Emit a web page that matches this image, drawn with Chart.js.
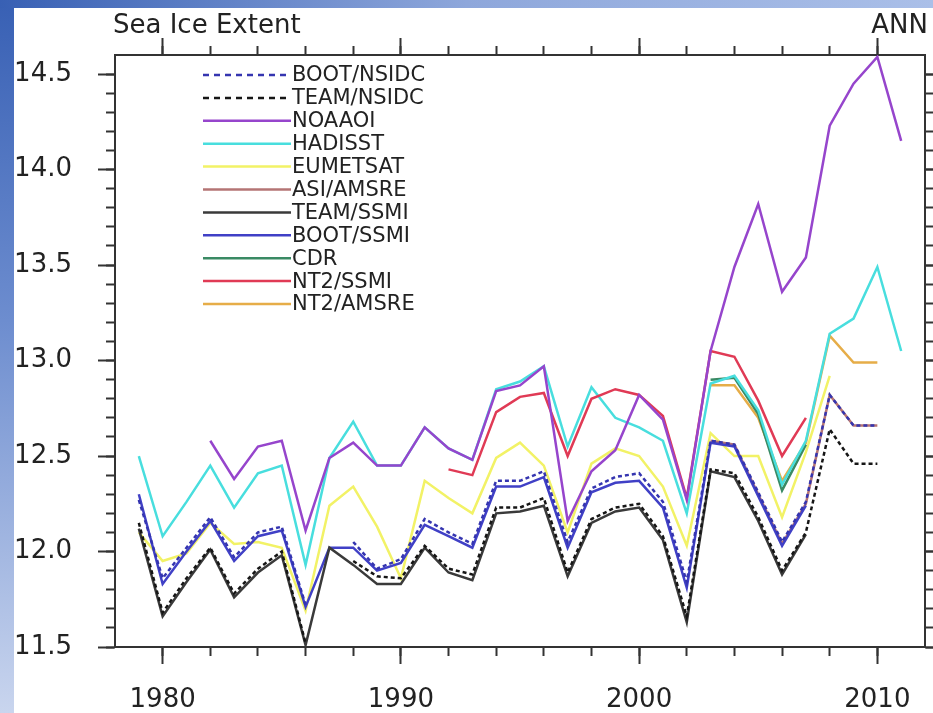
<!DOCTYPE html>
<html><head><meta charset="utf-8">
<script src="https://cdn.jsdelivr.net/npm/chart.js@4.4.1/dist/chart.umd.min.js"></script>
<style>
html,body{margin:0;padding:0;width:933px;height:713px;overflow:hidden;background:#fff;}
#bgl{position:absolute;left:0;top:0;width:14px;height:713px;background:linear-gradient(to bottom,#3860b4,#6d8dcf 45%,#c9d5ee);}
#bgt{position:absolute;left:0;top:0;width:933px;height:8px;background:linear-gradient(to right,#3860b4,#8ea7db 50%,#aabfe8);}
#wrap{position:absolute;left:0;top:0;width:933px;height:713px;}
</style></head><body>
<div id="bgl"></div><div id="bgt"></div>
<div id="wrap"><canvas id="c" width="933" height="713"></canvas></div>
<script>
const years = [1979,1980,1981,1982,1983,1984,1985,1986,1987,1988,1989,1990,1991,1992,1993,1994,1995,1996,1997,1998,1999,2000,2001,2002,2003,2004,2005,2006,2007,2008,2009,2010,2011];
const xMajorTicks = [1980,1990,2000,2010];
const yMajorTicks = [11.5,12.0,12.5,13.0,13.5,14.0,14.5];
const titleLeft = 'Sea Ice Extent';
const titleRight = 'ANN';

const bootNsidc = [12.27,11.86,12.02,12.18,11.97,12.10,12.13,11.72,null,12.05,11.91,11.96,12.17,12.10,12.04,12.37,12.37,12.42,12.05,12.33,12.39,12.41,12.26,11.84,12.58,12.56,12.31,12.05,12.26,12.82,12.66,12.66,null];
const teamNsidc = [12.15,11.68,11.86,12.02,11.78,11.91,12.00,11.52,null,11.95,11.87,11.86,12.03,11.91,11.88,12.23,12.23,12.28,11.89,12.17,12.23,12.25,12.08,11.66,12.43,12.41,12.18,11.90,12.10,12.64,12.46,12.46,null];
const noaaoi = [null,null,null,12.58,12.38,12.55,12.58,12.11,12.49,12.57,12.45,12.45,12.65,12.54,12.48,12.84,12.87,12.97,12.16,12.42,12.53,12.82,12.69,12.27,13.05,13.49,13.82,13.36,13.54,14.23,14.45,14.59,14.15];
const hadisst = [12.50,12.08,12.26,12.45,12.23,12.41,12.45,11.93,12.49,12.68,12.45,12.45,12.65,12.54,12.48,12.85,12.89,12.97,12.55,12.86,12.70,12.65,12.58,12.20,12.88,12.92,12.74,12.35,12.58,13.14,13.22,13.49,13.05];
const eumetsat = [12.10,11.95,11.99,12.15,12.04,12.05,12.02,11.69,12.24,12.34,12.13,11.86,12.37,12.28,12.20,12.49,12.57,12.45,12.10,12.46,12.54,12.50,12.34,12.03,12.62,12.50,12.50,12.18,12.52,12.92,null,null,null];
const asiAmsre = [null,null,null,null,null,null,null,null,null,null,null,null,null,null,null,null,null,null,null,null,null,null,null,null,12.58,12.56,12.30,12.04,12.25,12.82,12.66,12.66,null];
const teamSsmi = [12.12,11.66,11.84,12.01,11.76,11.89,11.98,11.51,12.02,11.93,11.83,11.83,12.02,11.89,11.85,12.20,12.21,12.24,11.87,12.15,12.21,12.23,12.06,11.63,12.42,12.39,12.16,11.88,12.09,null,null,null,null];
const bootSsmi = [12.30,11.83,12.00,12.16,11.95,12.08,12.11,11.71,12.02,12.02,11.90,11.94,12.14,12.08,12.02,12.34,12.34,12.39,12.02,12.31,12.36,12.37,12.23,11.81,12.57,12.55,12.29,12.03,12.24,null,null,null,null];
const cdr = [null,null,null,null,null,null,null,null,null,null,null,null,null,null,null,null,null,null,null,null,null,null,null,null,12.90,12.91,12.72,12.32,12.56,null,null,null,null];
const nt2Ssmi = [null,null,null,null,null,null,null,null,null,null,null,null,null,12.43,12.40,12.73,12.81,12.83,12.50,12.80,12.85,12.82,12.71,12.28,13.05,13.02,12.79,12.50,12.70,null,null,null,null];
const nt2Amsre = [null,null,null,null,null,null,null,null,null,null,null,null,null,null,null,null,null,null,null,null,null,null,null,null,12.87,12.87,12.70,12.37,12.57,13.13,12.99,12.99,null];

const series = [
  {label:'BOOT/NSIDC', data:bootNsidc, color:'#3535b0', dash:[4,3], order:0},
  {label:'TEAM/NSIDC', data:teamNsidc, color:'#161616', dash:[4,3], order:1},
  {label:'NOAAOI', data:noaaoi, color:'#9645cc', dash:[], order:4},
  {label:'HADISST', data:hadisst, color:'#48dede', dash:[], order:7},
  {label:'EUMETSAT', data:eumetsat, color:'#f2f266', dash:[], order:10},
  {label:'ASI/AMSRE', data:asiAmsre, color:'#b47474', dash:[], order:6},
  {label:'TEAM/SSMI', data:teamSsmi, color:'#3a3a3a', dash:[], order:2},
  {label:'BOOT/SSMI', data:bootSsmi, color:'#4040c6', dash:[], order:3},
  {label:'CDR', data:cdr, color:'#3a8a64', dash:[], order:8},
  {label:'NT2/SSMI', data:nt2Ssmi, color:'#e03a55', dash:[], order:5},
  {label:'NT2/AMSRE', data:nt2Amsre, color:'#e6ad48', dash:[], order:9}
];

const AX = '#333333';
const FONT = 'DejaVu Sans';

const datasets = series.map(s => ({
  label: s.label,
  data: years.map((yr,i) => ({x: yr, y: s.data[i]})),
  borderColor: s.color,
  borderDash: s.dash,
  borderWidth: 2.5,
  pointRadius: 0,
  fill: false,
  spanGaps: false,
  tension: 0,
  order: s.order
}));

const hide = (lo, hi) => c => (c.tick && (c.tick.value <= lo || c.tick.value >= hi)) ? 'rgba(0,0,0,0)' : AX;

function majorAxis(pos, axis, min, max, ticksArr, labels, size, padding, weight) {
  return {
    type:'linear', position:pos, axis:axis, min:min, max:max, bounds:'data', weight:weight,
    afterBuildTicks: s => { s.ticks = ticksArr.map(v => ({value:v})); },
    ticks: labels ? {display:true, font:{family:FONT, size:26}, color:'#222', padding:padding, autoSkip:false, maxRotation:0,
                     callback: v => axis === 'y' ? Number(v).toFixed(1) : String(v)} : {display:false},
    grid: {drawOnChartArea:false, drawTicks:true, tickLength:17, tickWidth:2, tickColor:AX},
    border: {display:true, color:AX, width:2},
    afterFit: s => { if (axis === 'y') s.width = size; else s.height = size; }
  };
}
function minorAxis(pos, axis, min, max, step, lo, hi) {
  return {
    type:'linear', position:pos, axis:axis, min:min, max:max, bounds:'data', weight:0,
    ticks: {display:false, stepSize:step},
    grid: {drawOnChartArea:false, drawTicks:true, tickLength:9, tickWidth:2, tickColor:hide(lo, hi)},
    border: {display:false},
    afterFit: s => { if (axis === 'y') s.width = 0; else s.height = 0; }
  };
}

const titlePlugin = {
  id:'ncltitle',
  afterDraw(chart){
    const ctx = chart.ctx;
    ctx.save();
    ctx.fillStyle = '#222';
    ctx.font = '26px "' + FONT + '"';
    ctx.textBaseline = 'alphabetic';
    ctx.textAlign = 'left';
    ctx.fillText(titleLeft, 113, 33);
    ctx.textAlign = 'right';
    ctx.fillText(titleRight, 928, 33);
    ctx.restore();
  }
};

const legendPlugin = {
  id:'ncllegend',
  afterDraw(chart){
    const ctx = chart.ctx, a = chart.chartArea;
    ctx.save();
    chart.data.datasets.forEach((ds, i) => {
      const y = a.top + 20 + i * 22.9;
      ctx.strokeStyle = ds.borderColor;
      ctx.lineWidth = 2.5;
      ctx.setLineDash(ds.borderDash.length ? [6,5] : []);
      ctx.beginPath(); ctx.moveTo(a.left + 88, y); ctx.lineTo(a.left + 176, y); ctx.stroke();
      ctx.setLineDash([]);
      ctx.fillStyle = '#222';
      ctx.font = '21px "' + FONT + '"';
      ctx.textBaseline = 'middle';
      ctx.textAlign = 'left';
      ctx.fillText(ds.label, a.left + 177, y + 1);
    });
    ctx.restore();
  }
};

new Chart(document.getElementById('c'), {
  type:'line',
  data:{datasets:datasets},
  options:{
    responsive:false, animation:false, events:[],
    layout:{padding:{left:0, right:8, top:55, bottom:0}},
    plugins:{legend:{display:false}, tooltip:{enabled:false}, title:{display:false}},
    scales:{
      x: majorAxis('bottom','x',1978,2012,xMajorTicks,true,66,21,1),
      xm: minorAxis('bottom','x',1978,2012,2,1978.01,2011.99),
      xt: majorAxis('top','x',1978,2012,xMajorTicks,false,0,0,1),
      xtm: minorAxis('top','x',1978,2012,2,1978.01,2011.99),
      y: majorAxis('left','y',11.5,14.6,yMajorTicks,true,115,26,1),
      ym: minorAxis('left','y',11.5,14.6,0.1,11.49,14.55),
      yr: majorAxis('right','y',11.5,14.6,yMajorTicks,false,0,0,1),
      yrm: minorAxis('right','y',11.5,14.6,0.1,11.49,14.55)
    }
  },
  plugins:[titlePlugin, legendPlugin]
});
</script>
</body></html>
